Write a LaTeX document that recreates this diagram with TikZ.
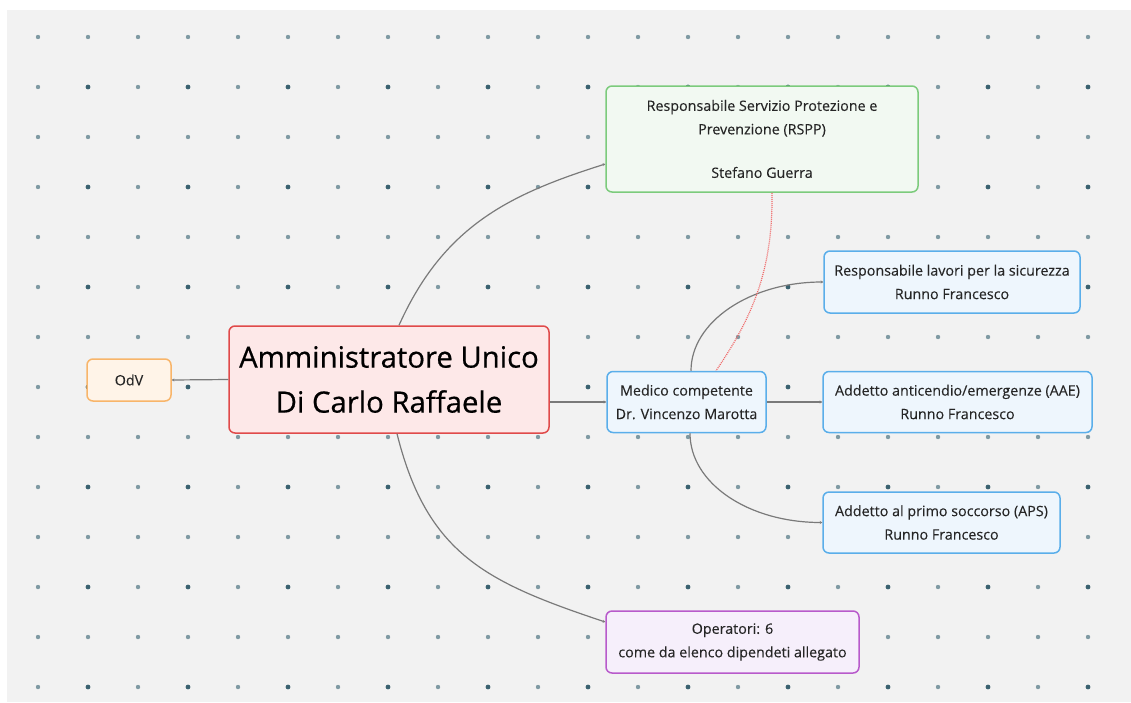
\documentclass[tikz,border=0pt]{standalone}
\usepackage{fontspec}
\setmainfont{Open Sans}
\newfontfamily\heavyfont[FakeBold=0.6]{Open Sans}
\newfontfamily\smallfont[FakeBold=0.15]{Open Sans}
\usetikzlibrary{arrows.meta}
\definecolor{bg}{HTML}{F2F2F2}
\definecolor{dotlight}{HTML}{7F9AA3}
\definecolor{dotdark}{HTML}{3A6270}
\definecolor{lineg}{HTML}{7A7A7A}
\definecolor{txt}{HTML}{262626}
\definecolor{gborder}{HTML}{7CCB7C}
\definecolor{gfill}{HTML}{F2F9F2}
\definecolor{bborder}{HTML}{5AAEEA}
\definecolor{bfill}{HTML}{EEF6FD}
\definecolor{rborder}{HTML}{E04A4A}
\definecolor{rfill}{HTML}{FDE8E8}
\definecolor{oborder}{HTML}{F8B56A}
\definecolor{ofill}{HTML}{FFF4E8}
\definecolor{pborder}{HTML}{B85ACB}
\definecolor{pfill}{HTML}{F6EFFB}
\definecolor{reddot}{HTML}{F06666}
\tikzset{
  nbox/.style={draw, rounded corners=6pt, line width=1.5pt, align=center, inner sep=0pt,
    text=txt, font=\smallfont\fontsize{14.3}{23.5}\selectfont},
  greenbox/.style={nbox, draw=gborder, fill=gfill},
  bluebox/.style={nbox, draw=bborder, fill=bfill},
  redbox/.style={nbox, draw=rborder, fill=rfill, font=\heavyfont\fontsize{29.3}{45}\selectfont, text=black},
  orangebox/.style={nbox, draw=oborder, fill=ofill},
  purplebox/.style={nbox, draw=pborder, fill=pfill},
  conn/.style={draw=lineg, line width=1.2pt, -{Stealth[length=2.5pt,width=3pt]}},
  relline/.style={draw=reddot, line width=1.2pt, dash pattern=on 1pt off 1pt},
}
\begin{document}
\begin{tikzpicture}[x=1pt,y=-1pt]
\useasboundingbox (0,0) rectangle (1131,702);
\fill[white] (0,0) rectangle (1131,702);
\fill[bg] (7,10) rectangle (1131,702);
% dot grid
\foreach \i in {0,...,21}{
  \foreach \j in {0,...,13}{
    \pgfmathtruncatemacro{\odd}{(mod(\i,2)==1)&&(mod(\j,2)==1)}
    \ifnum\odd=1
      \fill[dotdark] (38+50*\i,37+50*\j) circle (2.4pt);
    \else
      \fill[dotlight] (38+50*\i,37+50*\j) circle (2.2pt);
    \fi
  }
}
% nodes
\node[redbox, minimum width=320pt, minimum height=107pt] (main) at (389,379.5)
  {Amministratore Unico\\Di Carlo Raffaele};
\node[orangebox, minimum width=84pt, minimum height=42pt] (odv) at (129,380) {OdV};
\node[greenbox, minimum width=312pt, minimum height=106pt] (rspp) at (762,139)
  {Responsabile Servizio Protezione e\\Prevenzione (RSPP)\\[20pt]Stefano Guerra};
\node[bluebox, minimum width=159pt, minimum height=61pt] (medico) at (686.5,402)
  {Medico competente\\Dr. Vincenzo Marotta};
\node[bluebox, minimum width=256pt, minimum height=62pt] (resplav) at (952,282)
  {Responsabile lavori per la sicurezza\\Runno Francesco};
\node[bluebox, minimum width=269pt, minimum height=61pt] (aae) at (957.5,402)
  {Addetto anticendio/emergenze (AAE)\\Runno Francesco};
\node[bluebox, minimum width=237pt, minimum height=61pt] (aps) at (941.5,522.5)
  {Addetto al primo soccorso (APS)\\Runno Francesco};
\node[purplebox, minimum width=253pt, minimum height=62pt] (oper) at (732.5,642)
  {Operatori: 6\\come da elenco dipendeti allegato};
% connectors
\path[conn] (main.west) -- (odv.east);
\path[conn] ([xshift=10pt]main.north) .. controls +(45,-100) and +(-95,30) .. ([yshift=-25pt]rspp.west);
\path[conn] (medico.west -| main.east) -- (medico.west);
\path[conn] ([xshift=8pt]main.south) .. controls +(30,120) and +(-120,-40) .. ([yshift=20pt]oper.west);
\path[conn] ([xshift=4.5pt]medico.north) .. controls +(0,-49) and +(-73,0) .. (resplav.west);
\path[conn] (medico.east) -- (aae.west);
\path[conn] ([xshift=3.5pt]medico.south) .. controls +(0,50) and +(-74,0) .. (aps.west);
\path[relline] ([xshift=10pt]rspp.south) .. controls +(1,78) and +(36,-53) .. ([xshift=29.5pt]medico.north);
\end{tikzpicture}
\end{document}
